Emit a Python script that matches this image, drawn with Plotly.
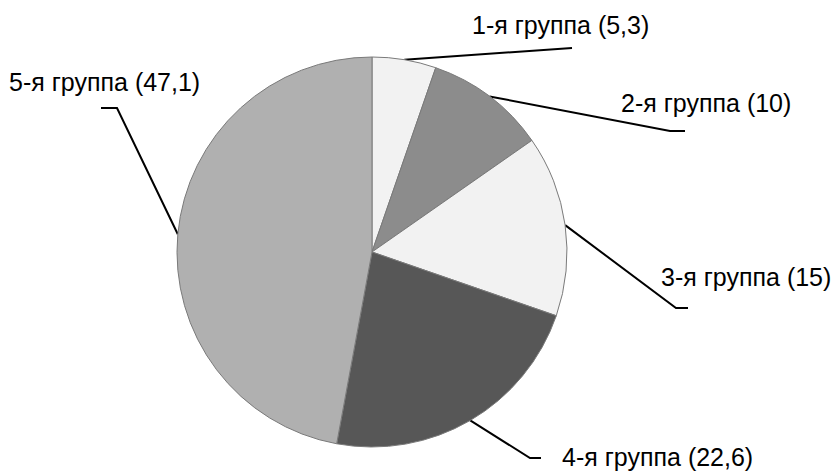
import math
import plotly.graph_objects as go

# ---- data ----
groups = ["1-я группа", "2-я группа", "3-я группа", "4-я группа", "5-я группа"]
values = [5.3, 10, 15, 22.6, 47.1]
value_labels = ["5,3", "10", "15", "22,6", "47,1"]
colors = ["#f2f2f2", "#8c8c8c", "#f2f2f2", "#575757", "#b0b0b0"]

# ---- layout constants (pixels) ----
W, H = 836, 471
CX, CY, R = 372, 252, 195
# leader-line elbow / end points and label centres
elbows = [(562, 48), (670, 131), (676, 308), (530, 458), (117, 108)]
ends = [(572, 48), (685, 131), (688, 308), (541, 458), (101, 108)]
text_pos = [(560, 25), (706, 103), (746, 277), (657, 457), (104, 82)]

fig = go.Figure()

fig.add_trace(go.Pie(
    values=values,
    labels=groups,
    sort=False,
    direction="clockwise",
    rotation=0,
    textinfo="none",
    hoverinfo="label+value",
    showlegend=False,
    marker=dict(colors=colors, line=dict(color="#7a7a7a", width=1)),
    domain=dict(x=[(CX - R) / W, (CX + R) / W],
                y=[(H - CY - R) / H, (H - CY + R) / H]),
))

total = sum(values)
cum = 0.0
annotations = []
for i, v in enumerate(values):
    mid = (cum + v / 2) / total * 2 * math.pi
    cum += v
    ax = CX + R * math.sin(mid)
    ay = CY - R * math.cos(mid)
    ex, ey = elbows[i]
    nx, ny = ends[i]
    fig.add_trace(go.Scatter(
        x=[ax, ex, nx], y=[ay, ey, ny], mode="lines",
        line=dict(color="black", width=2), hoverinfo="skip", showlegend=False,
    ))
    tx, ty = text_pos[i]
    annotations.append(dict(
        x=tx, y=ty, xref="x", yref="y", showarrow=False,
        text=f"{groups[i]} ({value_labels[i]})",
        font=dict(family="Liberation Sans, Arial, sans-serif", size=25, color="black"),
        xanchor="center", yanchor="middle",
    ))

fig.update_layout(
    width=W, height=H,
    margin=dict(l=0, r=0, t=0, b=0),
    paper_bgcolor="white", plot_bgcolor="rgba(0,0,0,0)",
    xaxis=dict(range=[0, W], visible=False, fixedrange=True),
    yaxis=dict(range=[H, 0], visible=False, fixedrange=True),
    annotations=annotations,
    showlegend=False,
)

fig.write_html("out.html", config={"displayModeBar": False},
               post_script="document.body.style.margin='0';document.body.style.overflow='hidden';")
